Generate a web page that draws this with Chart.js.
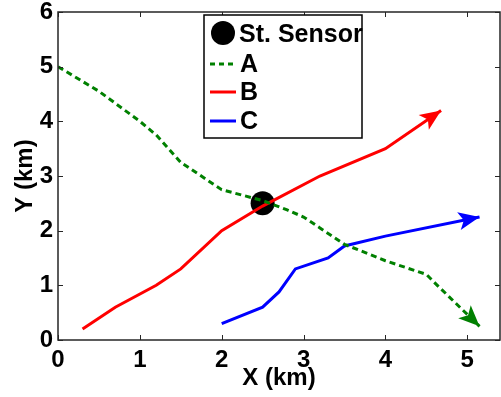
<!DOCTYPE html>
<html>
<head>
<meta charset="utf-8">
<script src="https://cdn.jsdelivr.net/npm/chart.js@4.4.0/dist/chart.umd.min.js"></script>
<style>
  body { margin: 0; background: #fff; }
  canvas { display: block; }
</style>
</head>
<body>
<canvas id="trackChart" width="501" height="397"></canvas>
<script>
// path A (green dashed)
const aX = [0, 0.5, 1.0, 1.2, 1.5, 2.0, 2.5, 2.8, 3.0, 3.2, 3.5, 4.0, 4.5, 4.6, 5.15];
const aY = [5, 4.55, 4.0, 3.75, 3.25, 2.75, 2.55, 2.38, 2.25, 2.05, 1.75, 1.45, 1.2, 1.05, 0.25];
// path B (red)
const bX = [0.3, 0.7, 1.2, 1.5, 2.0, 2.5, 3.2, 4.0, 4.68];
const bY = [0.2, 0.6, 1.0, 1.3, 2.0, 2.45, 3.0, 3.5, 4.2];
// path C (blue)
const cX = [2.0, 2.5, 2.7, 2.9, 3.3, 3.5, 4.0, 5.15];
const cY = [0.3, 0.6, 0.88, 1.3, 1.5, 1.72, 1.9, 2.25];
// stationary sensor
const sensorX = [2.5];
const sensorY = [2.5];

const legendLabels = ['St. Sensor', 'A', 'B', 'C'];
const xTicks = [0, 1, 2, 3, 4, 5];
const yTicks = [0, 1, 2, 3, 4, 5, 6];

const FONT = '"Liberation Sans", Arial, Helvetica, sans-serif';
const GREEN = '#008000';
const RED = '#ff0000';
const BLUE = '#0000ff';

function toPoints(xs, ys) {
    return xs.map((x, i) => ({ x: x, y: ys[i] }));
}

function drawArrow(ctx, x0, y0, x1, y1, color) {
    const ang = Math.atan2(y1 - y0, x1 - x0);
    ctx.save();
    ctx.translate(x1, y1);
    ctx.rotate(ang);
    ctx.fillStyle = color;
    ctx.beginPath();
    ctx.moveTo(0, 0);
    ctx.lineTo(-21, -9);
    ctx.lineTo(-16, 0);
    ctx.lineTo(-21, 9);
    ctx.closePath();
    ctx.fill();
    ctx.restore();
}

// fixed box sizes, no extra label padding from the scales
function fixBox(size) {
    return function (scale) {
        if (scale.isHorizontal()) scale.height = size; else scale.width = size;
        scale.paddingTop = 0;
        scale.paddingBottom = 0;
        scale.paddingLeft = 0;
        scale.paddingRight = 0;
    };
}

const arrowPlugin = {
    id: 'arrowHeads',
    afterDatasetsDraw(chart) {
        const ctx = chart.ctx;
        const xs = chart.scales.x, ys = chart.scales.y;
        [[aX, aY, GREEN], [bX, bY, RED], [cX, cY, BLUE]].forEach(([px, py, col]) => {
            const n = px.length;
            drawArrow(ctx,
                xs.getPixelForValue(px[n - 2]), ys.getPixelForValue(py[n - 2]),
                xs.getPixelForValue(px[n - 1]), ys.getPixelForValue(py[n - 1]), col);
        });
    }
};

const framePlugin = {
    id: 'frame',
    afterDraw(chart) {
        const ctx = chart.ctx;
        const a = chart.chartArea;
        const xs = chart.scales.x, ys = chart.scales.y;
        ctx.save();
        ctx.strokeStyle = '#262626';
        ctx.lineWidth = 1.5;
        ctx.strokeRect(a.left, a.top, a.right - a.left, a.bottom - a.top);
        ctx.lineWidth = 1;
        ctx.beginPath();
        xTicks.forEach(v => {
            const p = Math.round(xs.getPixelForValue(v)) + 0.5;
            ctx.moveTo(p, a.bottom); ctx.lineTo(p, a.bottom - 5);
            ctx.moveTo(p, a.top); ctx.lineTo(p, a.top + 5);
        });
        yTicks.forEach(v => {
            const p = Math.round(ys.getPixelForValue(v)) + 0.5;
            ctx.moveTo(a.left, p); ctx.lineTo(a.left + 5, p);
            ctx.moveTo(a.right, p); ctx.lineTo(a.right - 5, p);
        });
        ctx.stroke();

        // legend box
        const bx = 204, by = 15, bw = 158, bh = 123;
        ctx.fillStyle = '#fff';
        ctx.fillRect(bx, by, bw, bh);
        ctx.strokeStyle = '#000';
        ctx.lineWidth = 1.5;
        ctx.strokeRect(bx, by, bw, bh);

        ctx.fillStyle = '#000';
        ctx.beginPath();
        ctx.arc(223, 33, 12, 0, Math.PI * 2);
        ctx.fill();

        const rows = [64, 92, 121];
        const cols = [GREEN, RED, BLUE];
        rows.forEach((y, i) => {
            ctx.strokeStyle = cols[i];
            ctx.lineWidth = 3;
            ctx.setLineDash(i === 0 ? [5, 4] : []);
            ctx.beginPath();
            ctx.moveTo(210, y); ctx.lineTo(236, y);
            ctx.stroke();
        });
        ctx.setLineDash([]);

        ctx.fillStyle = '#000';
        ctx.font = 'bold 25px ' + FONT;
        ctx.textBaseline = 'middle';
        ctx.textAlign = 'left';
        ctx.fillText(legendLabels[0], 239, 35);
        rows.forEach((y, i) => ctx.fillText(legendLabels[i + 1], 240, y + 1));
        ctx.restore();
    }
};

const lineStyle = {
    type: 'line',
    borderWidth: 3,
    pointRadius: 0,
    tension: 0,
    fill: false,
    order: 0
};

const tickFont = { family: FONT, size: 24, weight: 'bold' };

new Chart(document.getElementById('trackChart'), {
    type: 'line',
    data: {
        datasets: [
            { ...lineStyle, label: 'A', data: toPoints(aX, aY), borderColor: GREEN, borderDash: [6, 4] },
            { ...lineStyle, label: 'B', data: toPoints(bX, bY), borderColor: RED },
            { ...lineStyle, label: 'C', data: toPoints(cX, cY), borderColor: BLUE },
            {
                type: 'line', label: 'St. Sensor', data: toPoints(sensorX, sensorY),
                showLine: false, pointRadius: 12, pointBackgroundColor: '#000',
                pointBorderWidth: 0, borderColor: '#000', order: 10
            }
        ]
    },
    options: {
        responsive: false,
        animation: false,
        layout: { autoPadding: false, padding: { top: 12, right: 1, left: 0, bottom: 0 } },
        scales: {
            x: {
                type: 'linear',
                min: 0,
                max: 5.4,
                afterFit: fixBox(57),
                grid: { display: false, drawTicks: false },
                border: { display: false },
                ticks: {
                    stepSize: 1,
                    includeBounds: false,
                    padding: 6,
                    color: '#000',
                    font: tickFont
                },
                title: {
                    display: true,
                    text: 'X (km)',
                    color: '#000',
                    padding: { top: 0, bottom: 4 },
                    font: tickFont
                }
            },
            y: {
                type: 'linear',
                min: 0,
                max: 6,
                afterFit: fixBox(58),
                grid: { display: false, drawTicks: false },
                border: { display: false },
                ticks: {
                    stepSize: 1,
                    padding: 5,
                    color: '#000',
                    font: tickFont
                },
                title: {
                    display: true,
                    text: 'Y (km)',
                    color: '#000',
                    padding: { top: 11, bottom: 0 },
                    font: tickFont
                }
            }
        },
        plugins: {
            legend: { display: false },
            tooltip: { enabled: false }
        }
    },
    plugins: [arrowPlugin, framePlugin]
});
</script>
</body>
</html>
